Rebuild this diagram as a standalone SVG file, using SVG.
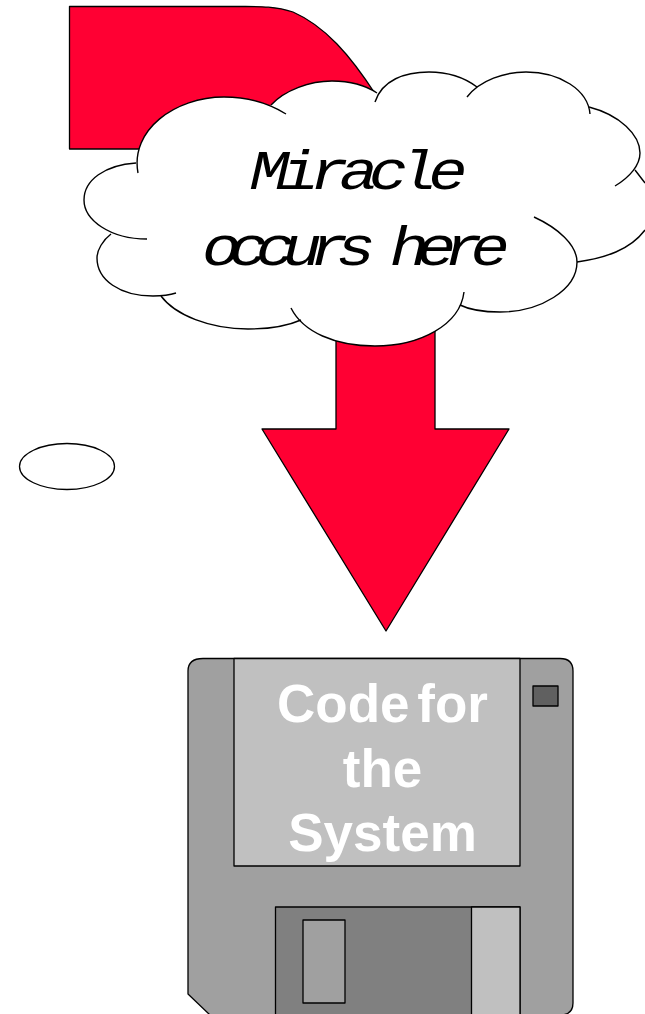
<svg xmlns="http://www.w3.org/2000/svg" width="645" height="1014" viewBox="0 0 645 1014">
<style>
.o{stroke:#000;stroke-width:1.3;stroke-linejoin:round}
.a{fill:#ff0033}
.f{fill:#fff;stroke:none}
.l{fill:none;stroke:#000;stroke-width:1.4}
.m{font-family:"Liberation Mono",monospace;font-style:italic;font-size:56px;fill:#000}
.s{font-family:"Liberation Sans",Arial,sans-serif;font-weight:bold;font-size:53px;fill:#fff;text-anchor:middle}
</style>
<defs>
<g id="lobes">
<path d="M375 102C382 80 405 72 429 72C450 72 465 78 477 87"/>
<path d="M467 97C480 80 505 72 526 72C560 72 588 90 590 114"/>
<path d="M589 107C620 115 640 135 640 153C640 165 630 177 615 186"/>
<path d="M635 170L645 183M645 230C630 250 605 258 577 262"/>
<path d="M534 217C558 228 577 245 577 262C577 290 540 312 500 312C485 312 470 310 460 305"/>
<path d="M464 292C460 325 420 346 375 346C335 346 303 332 291 308"/>
<path d="M301 320C285 327 265 329 248 329C210 329 175 315 161 296"/>
<path d="M176 293C170 295 160 296 153 296C120 296 97 280 97 258C97 250 103 240 111 234"/>
<path d="M147 239C110 239 84 220 84 200C84 180 105 165 136 163"/>
<path d="M138 173C130 130 175 97 224 97C250 97 270 104 286 114"/>
<path d="M271 105C285 90 310 81 332 81C350 81 365 85 377 93"/>
</g>
</defs>
<g id="curved-arrow">
<path class="o a" d="M69.500 6.500H240C258 6.500 275 6 293 12C325 26 350 55 376 95C410 150 435 200 435 260V429H509L386 631L262 429H336V250C336 210 310 149 280 149H69.500Z"/>
</g>
<g id="cloud">
<g class="f">
<path d="M377 93L477 87L589 107L635 170L645 183V230L577 262L460 305L301 320L161 296L111 234L136 163L271 105L285 95L340 88Z"/>
<use href="#lobes"/>
</g>
<g class="l"><use href="#lobes"/></g>
<text class="m" transform="translate(250 189) scale(1.17 1)" textLength="186" lengthAdjust="spacing">Miracle</text>
<text class="m" transform="translate(202 265) scale(1.17 1)" textLength="263" lengthAdjust="spacing">occurs here</text>
</g>
<g id="ellipse">
<ellipse class="o" cx="67" cy="466.500" rx="47.500" ry="23" fill="#fff"/>
</g>
<g id="disk">
<path class="o" d="M203 658.500H560Q573 658.500 573 671V1003Q573 1015 560 1015H210L188 994V671Q188 658.500 203 658.500Z" fill="#a0a0a0"/>
<rect class="o" x="234" y="658.500" width="286" height="207.500" fill="#c0c0c0"/>
<rect class="o" x="533" y="686" width="25" height="20" fill="#606060"/>
<rect class="o" x="275.500" y="907" width="244.500" height="110" fill="#808080"/>
<rect class="o" x="471.500" y="907" width="48.500" height="110" fill="#c0c0c0"/>
<rect class="o" x="303" y="920" width="42" height="83" fill="#a0a0a0"/>
<text class="s" x="382.500" y="722" word-spacing="-7">Code for</text>
<text class="s" x="382.500" y="787">the</text>
<text class="s" x="382.500" y="851">System</text>
</g>
</svg>
